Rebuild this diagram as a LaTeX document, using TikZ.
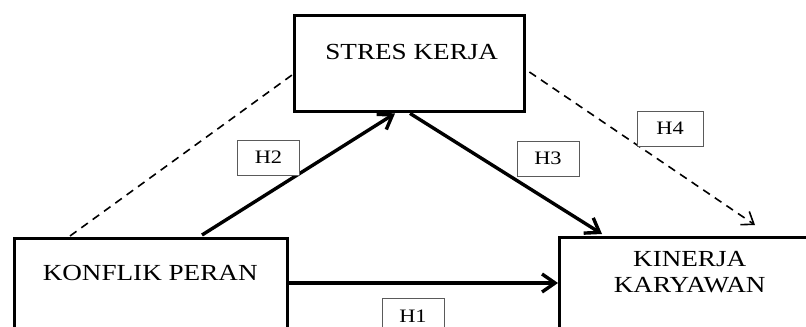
\documentclass[tikz,border=0pt]{standalone}
\usepackage{fontspec}
\setmainfont{Liberation Serif}
\newfontfamily\wideserif[FakeStretch=1.18]{Liberation Serif}
\usepackage{tikz}
\usetikzlibrary{arrows.meta, positioning, calc}
\definecolor{hframe}{RGB}{90,90,90}
\tikzset{
  varbox/.style={rectangle, draw=black, fill=white, line width=1.7pt,
    anchor=north west, inner sep=0pt},
  vartext/.style={align=center, font=\wideserif\fontsize{11.5}{13}\selectfont,
    inner sep=0pt},
  hbox/.style={rectangle, draw=hframe, fill=white, line width=0.5pt,
    minimum width=31pt, minimum height=17.5pt, inner sep=0pt,
    font=\wideserif\fontsize{9.5}{10}\selectfont},
  arrow/.style={-{Straight Barb[length=6.5pt, width=9pt]}, line width=1.7pt},
  dasharrow/.style={-{Straight Barb[length=5.5pt, width=8pt]}, line width=0.8pt,
    dash pattern=on 4pt off 3pt},
  dashline/.style={line width=0.8pt, dash pattern=on 4pt off 3pt}
}
\begin{document}
\begin{tikzpicture}[x=0.5pt, y=-0.5pt]
  \clip (0,0) rectangle (806,326);
  \fill[white] (0,0) rectangle (806,326);

  % Variables
  \node[varbox, minimum width=115pt, minimum height=48pt] (stres) at (293,14) {};
  \node[varbox, minimum width=136.5pt, minimum height=60pt] (konflik) at (13,237) {};
  \node[varbox, minimum width=130pt, minimum height=60pt] (kinerja) at (558,236) {};

  \node[vartext] (stresT) at ($(stres.north)+(2,38)$) {STRES KERJA};
  \node[vartext] (konflikT) at ($(konflik.north)+(-1,36)$) {KONFLIK PERAN};
  \node[vartext] (kinerjaT) at ($(kinerja.north)+(0,36)$) {KINERJA\\KARYAWAN};

  % Paths
  \draw[arrow] ($(konflik.north east)+(0,46)$) -- ($(kinerja.north west)+(0,47)$);
  \draw[arrow] ($(konflik.north west)+(189,-2)$) -- ($(stres.south west)+(102,0)$);
  \draw[arrow] ($(stres.south west)+(117,0)$) -- ($(kinerja.north west)+(44,-2)$);
  \draw[dashline] ($(konflik.north west)+(57,-1)$) -- ($(stres.north west)+(-1,61)$);
  \draw[dasharrow] ($(stres.north east)+(3,58)$) -- ($(kinerja.north west)+(197,-11)$);

  % Hypotheses
  \node[hbox] (h1) at (413,316) {H1};
  \node[hbox] (h2) at (268.5,157.5) {H2};
  \node[hbox] (h3) at (548,158.5) {H3};
  \node[hbox, minimum width=33pt] (h4) at (670,128.5) {H4};
\end{tikzpicture}
\end{document}
